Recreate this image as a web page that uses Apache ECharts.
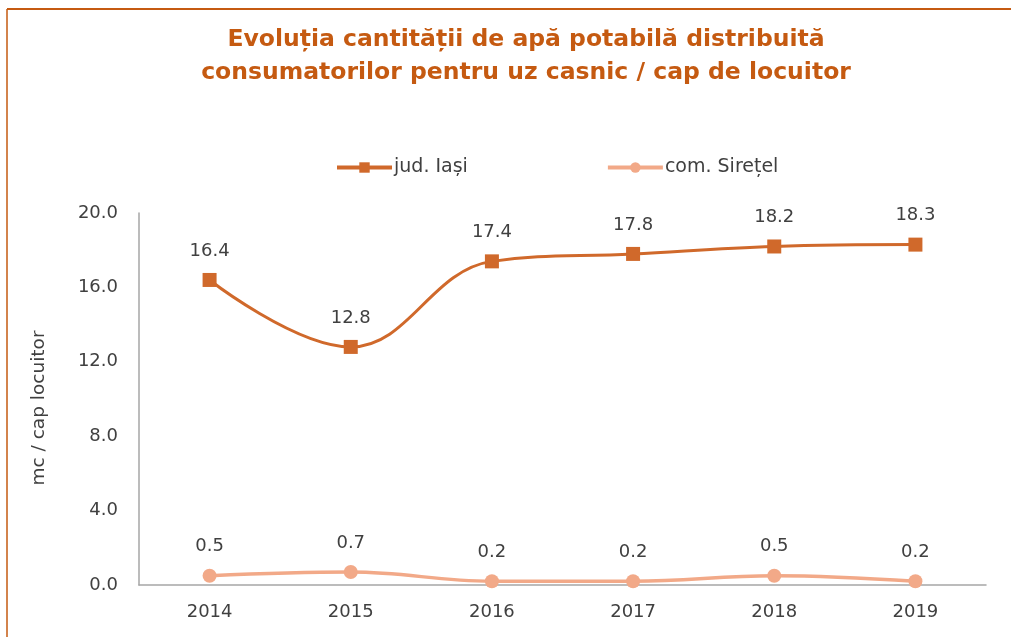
<!DOCTYPE html>
<html>
<head>
<meta charset="utf-8">
<script src="https://cdn.jsdelivr.net/npm/echarts@6/dist/echarts.min.js"></script>
<style>
  html, body { margin: 0; padding: 0; background: #fff; }
  #main { width: 1011px; height: 637px; }
</style>
</head>
<body>
<div id="main"></div>
<script>
// values
var years = ['2014', '2015', '2016', '2017', '2018', '2019'];
var iasi = [16.4, 12.8, 17.4, 17.8, 18.2, 18.3];
var siretel = [0.5, 0.7, 0.2, 0.2, 0.5, 0.2];
var yTicks = [0, 4, 8, 12, 16, 20];

var font = 'DejaVu Sans';
var txt = '#404040';

var chart = echarts.init(document.getElementById('main'));

function oneDecimal(p) { return p.value.toFixed(1); }

chart.setOption({
  animation: false,
  textStyle: { fontFamily: font },
  title: {
    text: 'Evoluția cantității de apă potabilă distribuită\nconsumatorilor pentru uz casnic / cap de locuitor',
    left: 521,
    top: 18,
    textAlign: 'center',
    textStyle: { color: '#C55A11', fontSize: 23.5, fontWeight: 'bold', lineHeight: 33, fontFamily: font }
  },
  legend: {
    top: 153,
    left: 330,
    itemGap: 138,
    itemWidth: 55,
    itemHeight: 13,
    lineStyle: { width: 4 },
    textStyle: { color: txt, fontSize: 19, fontFamily: font, padding: [0, 0, 0, -3] },
    data: ['jud. Iași', 'com. Sirețel']
  },
  grid: { left: 139, right: 25, top: 213, bottom: 52, containLabel: false },
  xAxis: {
    type: 'category',
    data: years,
    axisLine: { lineStyle: { color: '#A6A6A6', width: 1.5 } },
    axisTick: { show: false },
    axisLabel: { color: txt, fontSize: 18, margin: 18 }
  },
  yAxis: {
    type: 'value',
    min: yTicks[0],
    max: yTicks[yTicks.length - 1],
    interval: 4,
    name: 'mc / cap locuitor',
    nameLocation: 'middle',
    nameGap: 90,
    nameTextStyle: { color: txt, fontSize: 18.5, padding: [0, 18, 0, 0] },
    axisLine: { show: true, lineStyle: { color: '#A6A6A6', width: 1.5 } },
    axisTick: { show: false },
    splitLine: { show: false },
    axisLabel: { color: txt, fontSize: 18, margin: 21, formatter: function (v) { return v.toFixed(1); } }
  },
  series: [
    {
      name: 'jud. Iași',
      type: 'line',
      data: iasi,
      smooth: 0.4,
      symbol: 'rect',
      symbolSize: 14,
      lineStyle: { color: '#D0692B', width: 3 },
      itemStyle: { color: '#D0692B' },
      label: { show: true, position: 'top', distance: 13, color: txt, fontSize: 18, formatter: oneDecimal }
    },
    {
      name: 'com. Sirețel',
      type: 'line',
      data: siretel,
      smooth: 0.4,
      symbol: 'circle',
      symbolSize: 14,
      lineStyle: { color: '#F2A988', width: 3.5 },
      itemStyle: { color: '#F2A988' },
      label: { show: true, position: 'top', distance: 13, color: txt, fontSize: 18, formatter: oneDecimal }
    }
  ],
  graphic: [
    { type: 'line', shape: { x1: 7, y1: 9, x2: 1011, y2: 9 }, style: { stroke: '#C55A11', lineWidth: 2 } },
    { type: 'line', shape: { x1: 7, y1: 9, x2: 7, y2: 637 }, style: { stroke: '#C55A11', lineWidth: 1.5 } }
  ]
});
</script>
</body>
</html>
